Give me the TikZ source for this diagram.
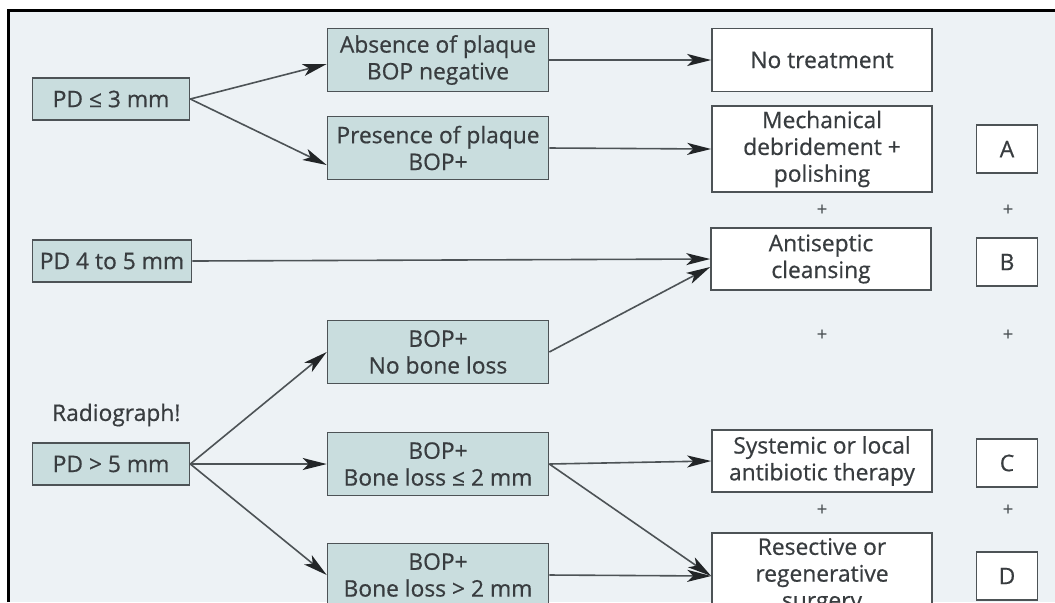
\documentclass[tikz,border=0pt]{standalone}
\usepackage{fontspec}
\setmainfont{Open Sans}[AutoFakeBold=0.6]
\usetikzlibrary{arrows.meta}
\definecolor{bgpanel}{HTML}{EDF2F5}
\definecolor{boxteal}{HTML}{C9DDDE}
\definecolor{boxline}{HTML}{4D5356}
\definecolor{inktext}{HTML}{383C3F}
\definecolor{tipink}{HTML}{222527}

\begin{document}
\begin{tikzpicture}[x=0.5pt, y=-0.5pt, font=\fontsize{11.4}{13.4}\selectfont\bfseries, text=inktext,
    tealbox/.style={draw=boxline, line width=0.8pt, fill=boxteal, align=center, inner sep=0pt},
    whitebox/.style={draw=boxline, line width=0.8pt, fill=white, align=center, inner sep=0pt, minimum width=110pt},
    letterbox/.style={draw=boxline, line width=0.8pt, fill=white, minimum width=30.5pt, minimum height=24pt, inner sep=0pt},
    plusmark/.style={font=\fontsize{9}{9}\selectfont\bfseries, text=boxline, inner sep=0pt},
    arr/.style={draw=boxline, line width=0.8pt, -{Stealth[length=12pt, width=6pt, inset=3pt, color=tipink]}}]
    \useasboundingbox (0,0) rectangle (1055,602);
    \clip (0,0) rectangle (1055,602);
    \fill[white] (0,0) rectangle (1055,602);
    \fill[bgpanel] (8,10) rectangle (1055,602);
    \draw[line width=1.5pt] (8,602) -- (8,10) -- (1055,10);
    % left column
    \node[tealbox, minimum width=78.5pt, minimum height=21pt] (pd3) at (111,99) {PD ≤ 3 mm};
    \node[tealbox, minimum width=79.5pt, minimum height=21pt] (pd45) at (112,261) {PD 4 to 5 mm};
    \node[anchor=west] (radio) at (45,415) {Radiograph!};
    \node[tealbox, minimum width=78.5pt, minimum height=21pt] (pd5) at (111,464) {PD > 5 mm};
    % findings
    \node[tealbox, minimum width=110.5pt, minimum height=31.5pt] (absn) at (438,60) {Absence of plaque\\BOP negative};
    \node[tealbox, minimum width=110.5pt, minimum height=31.5pt] (pres) at (438,148) {Presence of plaque\\BOP+};
    \node[tealbox, minimum width=110.5pt, minimum height=31.5pt] (nobone) at (438,352) {BOP+\\No bone loss};
    \node[tealbox, minimum width=110.5pt, minimum height=31.5pt] (bl2) at (438,464) {BOP+\\Bone loss ≤ 2 mm};
    \node[tealbox, minimum width=110.5pt, minimum height=31.5pt] (blgt) at (438,575) {BOP+\\Bone loss > 2 mm};
    % therapy
    \node[whitebox, minimum height=31.5pt] (notreat) at (822,60) {No treatment};
    \node[whitebox, minimum height=43pt] (mech) at (822,149) {Mechanical\\debridement +\\polishing};
    \node[whitebox, minimum height=31pt] (anti) at (821,259) {Antiseptic\\cleansing};
    \node[whitebox, minimum height=31pt] (sys) at (822,461) {Systemic or local\\antibiotic therapy};
    \node[whitebox, minimum height=43pt] (resect) at (822,576) {Resective or\\regenerative\\surgery};
    % protocol letters
    \node[letterbox] (lA) at (1007,149) {A};
    \node[letterbox] (lB) at (1007,262) {B};
    \node[letterbox] (lC) at (1007,463) {C};
    \node[letterbox] (lD) at (1007,576) {D};
    \node[plusmark] (p1) at (822,210) {+};
    \node[plusmark] (p2) at (1008,210) {+};
    \node[plusmark] (p3) at (822,335) {+};
    \node[plusmark] (p4) at (1008,335) {+};
    \node[plusmark] (p5) at (822,510) {+};
    \node[plusmark] (p6) at (1008,510) {+};
    % arrows
    \draw[arr] (pd3.east) -- ([yshift=-2pt]absn.west);
    \draw[arr] (pd3.east) -- ([yshift=-8.5pt]pres.west);
    \draw[arr] (absn.east) -- (notreat.west);
    \draw[arr] (pres.east) -- (mech.west);
    \draw[arr] (pd45.east) -- (anti.west);
    \draw[arr] (nobone.east) -- ([yshift=-4pt]anti.west);
    \draw[arr] (pd5.east) -- (nobone.west);
    \draw[arr] (pd5.east) -- (bl2.west);
    \draw[arr] (pd5.east) -- (blgt.west);
    \draw[arr] (bl2.east) -- (sys.west);
    \draw[arr] (bl2.east) -- (resect.west);
    \draw[arr] (blgt.east) -- (resect.west);
\end{tikzpicture}
\end{document}
